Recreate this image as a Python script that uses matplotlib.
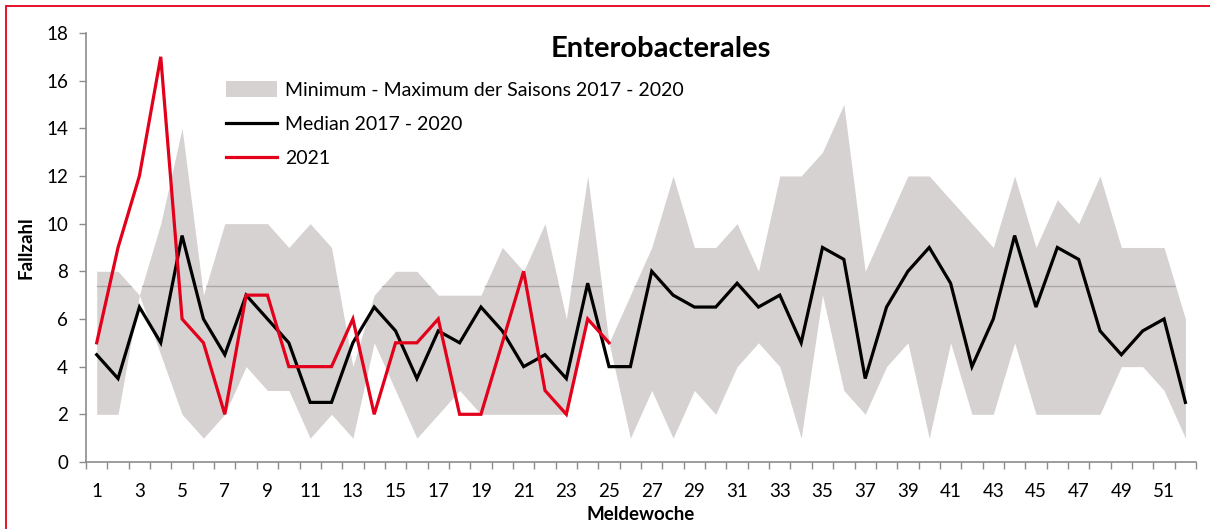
import numpy as np
import matplotlib.pyplot as plt
from matplotlib.patches import Patch, Rectangle
from matplotlib.lines import Line2D

plt.rcParams['font.family'] = ['Lato', 'DejaVu Sans']

weeks = list(range(1, 53))

band_max = [8, 8, 7, 10, 14, 7, 10, 10, 10, 9,
            10, 9, 4, 7, 8, 8, 7, 7, 7, 9,
            8, 10, 6, 12, 5, 7, 9, 12, 9, 9,
            10, 8, 12, 12, 13, 15, 8, 10, 12, 12,
            11, 10, 9, 12, 9, 11, 10, 12, 9, 9,
            9, 6]
band_min = [2, 2, 7, 4.5, 2, 1, 2, 4, 3, 3,
            1, 2, 1, 5, 3, 1, 2, 3, 2, 2,
            2, 2, 2, 6, 5, 1, 3, 1, 3, 2,
            4, 5, 4, 1, 7, 3, 2, 4, 5, 1,
            5, 2, 2, 5, 2, 2, 2, 2, 4, 4,
            3, 1]
median = [4.5, 3.5, 6.5, 5, 9.5, 6, 4.5, 7, 6, 5,
          2.5, 2.5, 5, 6.5, 5.5, 3.5, 5.5, 5, 6.5, 5.5,
          4, 4.5, 3.5, 7.5, 4, 4, 8, 7, 6.5, 6.5,
          7.5, 6.5, 7, 5, 9, 8.5, 3.5, 6.5, 8, 9,
          7.5, 4, 6, 9.5, 6.5, 9, 8.5, 5.5, 4.5, 5.5,
          6, 2.5]
weeks_2021 = list(range(1, 26))
cases_2021 = [5, 9, 12, 17, 6, 5, 2, 7, 7, 4,
              4, 4, 6, 2, 5, 5, 6, 2, 2, 5,
              8, 3, 2, 6, 5]
ref_level = 7.4

band_color = '#d6d2d2'
red = '#e2001a'
axis_grey = '#8c8c8c'

fig = plt.figure(figsize=(12.1, 5.29), dpi=100)
ax = fig.add_axes([0.0711, 0.1267, 0.9174, 0.811])

# min-max band
band = ax.fill_between(weeks, band_min, band_max, color=band_color, linewidth=0, zorder=1)
# faint level line, only visible inside the band
lvl, = ax.plot([weeks[0], weeks[-1]], [ref_level, ref_level], color='#a9a7a7', lw=1, zorder=2)
lvl.set_clip_path(band.get_paths()[0], transform=ax.transData)

ax.plot(weeks, median, color='black', lw=2.3, zorder=3, solid_joinstyle='miter')
ax.plot(weeks_2021, cases_2021, color=red, lw=2.3, zorder=4, solid_joinstyle='miter')

ax.set_xlim(0.5, 52.5)
ax.set_ylim(0, 18)
ax.set_yticks(np.arange(0, 19, 2))
ax.set_xticks(weeks[::2])
ax.set_xticks(np.arange(0.5, 53, 1), minor=True)
ax.tick_params(axis='x', which='major', length=0, pad=15, labelsize=13.5)
ax.tick_params(axis='x', which='minor', length=5, color=axis_grey, width=1)
ax.tick_params(axis='y', length=5, color=axis_grey, width=1, labelsize=13.5, pad=8)

for side in ['top', 'right']:
    ax.spines[side].set_visible(False)
for side in ['left', 'bottom']:
    ax.spines[side].set_color(axis_grey)
    ax.spines[side].set_linewidth(1.2)

ax.set_xlabel('Meldewoche', fontsize=13.5, fontweight='bold', labelpad=4.5)
ax.set_ylabel('Fallzahl', fontsize=13.5, fontweight='bold', labelpad=8.5)
ax.set_title('Enterobacterales', fontsize=21, fontweight='bold', x=0.518, y=0.925)

handles = [Patch(facecolor=band_color, edgecolor='none'),
           Line2D([], [], color='black', lw=2.3),
           Line2D([], [], color=red, lw=2.3)]
labels = ['Minimum - Maximum der Saisons 2017 - 2020', 'Median 2017 - 2020', '2021']
ax.legend(handles, labels, loc='upper left', bbox_to_anchor=(0.1195, 0.905),
          frameon=False, fontsize=14, handlelength=2.6, handleheight=0.85,
          handletextpad=0.4, labelspacing=0.86, borderaxespad=0)

# red frame around the chart area
fig.patches.append(Rectangle((6 / 1210, -0.05), 1.2, 1 - 6 / 529 + 0.05,
                             transform=fig.transFigure, fill=False,
                             edgecolor=red, lw=1.3))

fig.savefig('out.png', dpi=100)
